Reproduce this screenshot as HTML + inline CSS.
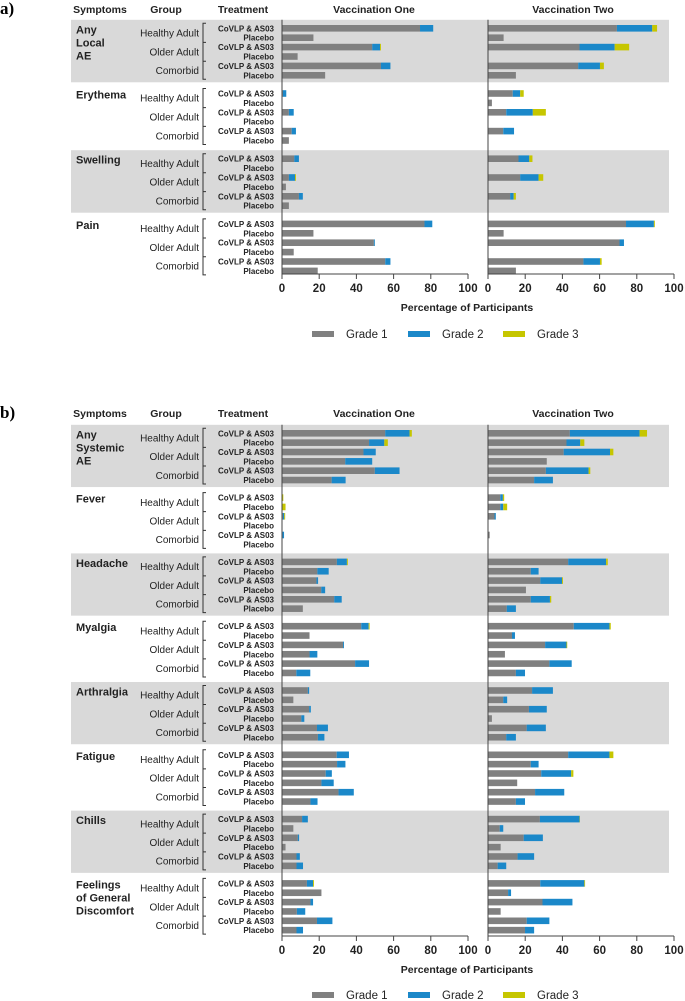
<!DOCTYPE html>
<html><head><meta charset="utf-8">
<style>
html,body{margin:0;padding:0;background:#fff;}
svg{display:block;font-family:"Liberation Sans",Arial,sans-serif;}
</style></head>
<body>
<svg id="fig" width="685" height="1001" viewBox="0 0 685 1001" xmlns="http://www.w3.org/2000/svg"></svg>
<script>
// ---------- DATA ----------
const groups = ["Healthy Adult","Older Adult","Comorbid"];
const treatments = ["CoVLP & AS03","Placebo"];
const xTicks = [0,20,40,60,80,100];
const gradeLabels = ["Grade 1","Grade 2","Grade 3"];

const symptomsA = [["Any","Local","AE"],["Erythema"],["Swelling"],["Pain"]];
const aV1g1 = [74.2,16.9,48.5,8.4,53.2,23.2, 0.5,0,3.7,0,5.2,3.7, 6.6,0,3.7,2.1,9.1,3.7, 76.6,16.9,49.4,6.3,55.5,19.2];
const aV1g2 = [7.1,0,4.2,0,5.1,0, 1.8,0,2.6,0,2.3,0, 2.5,0,3.3,0,2.1,0, 4.2,0,0.5,0,2.8,0];
const aV1g3 = [0,0,0.5,0,0,0, 0,0,0,0,0,0, 0,0,0.5,0,0,0, 0,0,0,0,0,0];
const aV2g1 = [69.3,8.4,49.2,0,48.5,15, 13.3,2.1,9.8,0,8.2,0, 16.4,0,17.3,0,11.9,0, 74.2,8.4,70.7,0,51.3,15];
const aV2g2 = [19,0,18.9,0,11.7,0, 4,0,14.3,0,5.8,0, 5.8,0,9.9,0,1.9,0, 15,0,2.4,0,8.9,0];
const aV2g3 = [2.6,0,7.8,0,2.1,0, 1.9,0,7,0,0,0, 1.7,0,2.5,0,1.2,0, 0.5,0,0,0,0.9,0];

const symptomsB = [["Any","Systemic","AE"],["Fever"],["Headache"],["Myalgia"],["Arthralgia"],["Fatigue"],["Chills"],["Feelings","of General","Discomfort"]];
const bV1g1 = [55.5,46.8,43.8,34,49.9,26.7, 0,0,0.5,0,0.3,0, 29.5,19,18.5,21.1,28.1,11.2, 42.6,14.8,32.8,14.8,39.3,7.7, 13.9,6.1,14.6,10.4,18.8,19.3, 29.4,29.6,23.5,21.2,30.4,15.3, 10.8,6.1,8.5,1.9,7.8,7.8, 13.4,21.2,15.3,8,18.8,7.8];
const bV1g2 = [13.1,8.2,6.6,14.5,13.3,7.5, 0,0,0.7,0,0.8,0, 5.4,6.1,0.9,2.1,4,0, 4,0,0.5,4.2,7.5,7.5, 0.7,0,0.9,1.6,5.9,3.5, 6.6,4.5,3.3,6.6,8.2,3.8, 3.1,0,0.7,0,1.8,3.5, 3.3,0,1.4,4.5,8.3,3.5];
const bV1g3 = [1.2,1.9,0,0,0,0, 0.7,1.9,0.5,0,0,0, 0.5,0,0,0,0,0, 0.5,0,0,0,0,0, 0,0,0,0,0,0, 0,0,0,0,0,0, 0,0,0,0,0,0, 0.5,0,0,0,0,0];
const bV2g1 = [44,42.2,40.7,31.6,31.1,24.8, 6.6,6.6,3.5,0,0.9,0, 43.1,23,28.1,20.4,23,10.1, 46.1,12.9,30.7,9.1,33,15, 23.7,8.2,22,2.1,20.8,9.8, 43.1,23,28.6,15.7,25.3,15, 27.9,6.3,19.2,6.8,15.9,5.2, 28.1,10.8,29.3,6.8,20.8,19.9];
const bV2g2 = [37.5,7.4,24.9,0,23,10.1, 1.4,1.6,0.7,0,0,0, 20.4,4.2,11.7,0,10.3,4.9, 19.2,1.6,11.5,0,12,4.9, 11.2,2.1,9.6,0,10.3,5.2, 22.2,4.2,16.1,0,15.7,4.9, 21.3,1.9,10.3,0,8.9,4.6, 23.7,1.6,16.1,0,12.2,4.9];
const bV2g3 = [4,2.2,1.8,0,0.9,0, 0.7,2.1,0,0,0,0, 0.9,0,0.5,0,0.7,0, 0.7,0,0.4,0,0,0, 0,0,0,0,0,0, 2.1,0,1.2,0,0,0, 0.2,0,0,0,0,0, 0.4,0,0,0,0,0];

// ---------- DRAW ----------
const NS="http://www.w3.org/2000/svg";
const svg=document.getElementById('fig');
const COLORS=["#808080","#1b88c9","#c6c600"];
function mk(tag,attrs,parent){const e=document.createElementNS(NS,tag);for(const k in attrs)e.setAttribute(k,attrs[k]);(parent||svg).appendChild(e);return e;}
function txt(s,x,y,size,weight,anchor,parent){const t=mk('text',{x:x,y:y,'font-size':size,'font-weight':weight,'text-anchor':anchor,fill:'#222'},parent);t.textContent=s;return t;}

function panel(cfg){
  const g=mk('g',{});
  
  
  const x0s=[282,488], W=186;
  const xs=(i,v)=>x0s[i]+v/100*W;
  const rowY=(b,r)=>cfg.row0+b*cfg.pitch+r*cfg.rs;
  const nB=cfg.symptoms.length;
  // panel letter
  const pl=mk('text',{x:0,y:cfg.hy+5,'font-size':17,'font-weight':'bold','font-family':'Liberation Serif,serif',fill:'#000'},g);
  pl.textContent=cfg.letter;
  
  
  // headers
  const hdr=[["Symptoms",100],["Group",166],["Treatment",243],["Vaccination One",374],["Vaccination Two",573]];
  hdr.forEach(h=>{const t=txt(h[0],h[1],cfg.hy+4,10.5,'bold','middle',g);
    
    });
  // shading
  for(let b=0;b<nB;b++){
    if(b%2===0){
      const r=mk('rect',{x:71,y:rowY(b,0)-8.5,width:598,height:cfg.rs*5+15.5,fill:'#d9d9d9'},g);
      
      
    }
  }
  // labels and bars
  const V=[[cfg.v1[0],cfg.v1[1],cfg.v1[2]],[cfg.v2[0],cfg.v2[1],cfg.v2[2]]];
  for(let b=0;b<nB;b++){
    const lines=cfg.symptoms[b];
    lines.forEach((l,i)=>{const t=txt(l,76,rowY(b,0)+5+i*13,11,'bold','start',g);
      
      });
    // bracket
    const yt=rowY(b,0)-5, yb=rowY(b,5)+4;
    const br=mk('path',{d:`M206 ${yt} H203 V${yb} H206 M203 ${(rowY(b,1)+rowY(b,2))/2} H206 M203 ${(rowY(b,3)+rowY(b,4))/2} H206`,stroke:'#333','stroke-width':1,fill:'none'},g);
    
    
    for(let gi=0;gi<3;gi++){
      const t=txt(groups[gi],199,(rowY(b,gi*2)+rowY(b,gi*2+1))/2+3.5,10,'normal','end',g);
      
      
    }
    for(let r=0;r<6;r++){
      const y=rowY(b,r);
      const t=txt(treatments[r%2],274,y+3,8,'bold','end',g);
      
      
      const idx=b*6+r;
      for(let vi=0;vi<2;vi++){
        let acc=0;
        for(let gr=0;gr<3;gr++){
          const v=V[vi][gr][idx];
          if(v>0){
            const rc=mk('rect',{x:xs(vi,acc),y:y-3.3,width:xs(vi,acc+v)-xs(vi,acc),height:6.6,fill:COLORS[gr]},g);
            
            
          }
          acc+=v;
        }
      }
    }
  }
  // axes
  const top=rowY(0,0)-8.5;
  for(let vi=0;vi<2;vi++){
    const ax=mk('path',{d:`M${x0s[vi]} ${top} V${cfg.axisY} H${x0s[vi]+W}`,stroke:'#444','stroke-width':1,fill:'none'},g);
    
    
    xTicks.forEach(tv=>{
      const tx=xs(vi,tv);
      mk('line',{x1:tx,y1:cfg.axisY,x2:tx,y2:cfg.axisY+5,stroke:'#444','stroke-width':1},g);
      const t=txt(String(tv),tx,cfg.axisY+18,11.5,'bold','middle',g);
      
      
    });
  }
  const at=txt("Percentage of Participants",467,cfg.axisY+37,10.5,'bold','middle',g);
  
  
  // legend
  const lx=[312,408,503];
  gradeLabels.forEach((gl,i)=>{
    const sw=mk('rect',{x:lx[i],y:cfg.legY-3,width:22,height:6,fill:COLORS[i]},g);
    
    
    const t=txt(gl,lx[i]+34,cfg.legY+4,11.5,'normal','start',g);
    
    
  });
}

panel({name:'panel-a-local-ae',letter:'a)',hy:9,row0:28.3,pitch:65.2,rs:9.4,symptoms:symptomsA,
  v1:[aV1g1,aV1g2,aV1g3],v2:[aV2g1,aV2g2,aV2g3],axisY:274,legY:334});
panel({name:'panel-b-systemic-ae',letter:'b)',hy:413,row0:433.3,pitch:64.3,rs:9.35,symptoms:symptomsB,
  v1:[bV1g1,bV1g2,bV1g3],v2:[bV2g1,bV2g2,bV2g3],axisY:936,legY:995});
</script>
</body></html>
